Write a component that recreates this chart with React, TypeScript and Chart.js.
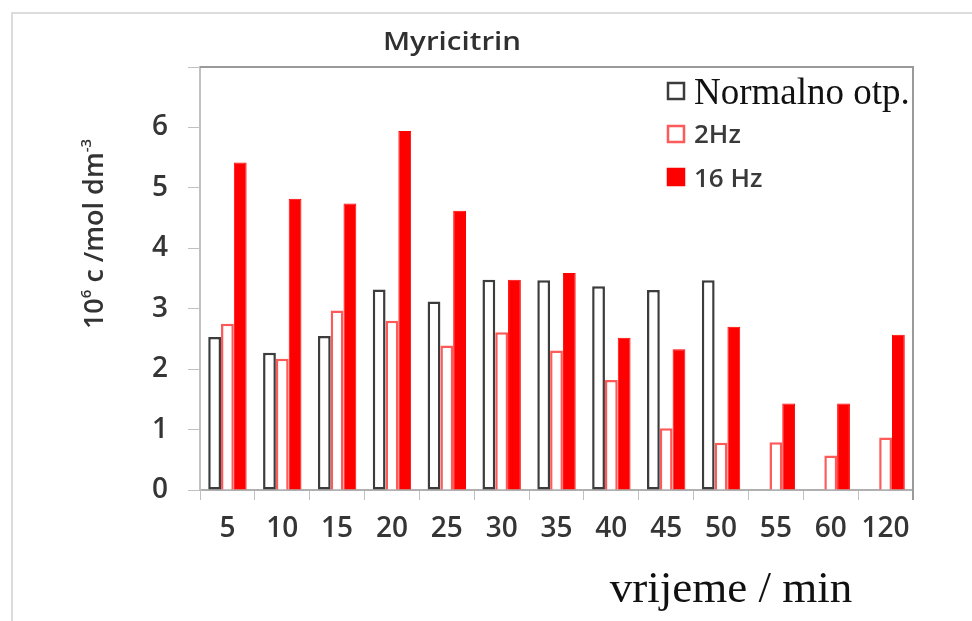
import React, { useEffect, useRef } from "react";
import { Chart, registerables } from "chart.js";

Chart.register(...registerables);

const categories = ["5", "10", "15", "20", "25", "30", "35", "40", "45", "50", "55", "60", "120"];
const normalnoValues: (number | null)[] = [2.53, 2.27, 2.55, 3.32, 3.12, 3.48, 3.47, 3.37, 3.31, 3.47, null, null, null];
const hz2Values = [2.75, 2.17, 2.97, 2.8, 2.39, 2.61, 2.31, 1.82, 1.02, 0.78, 0.79, 0.57, 0.87];
const hz16Values = [5.42, 4.82, 4.74, 5.94, 4.62, 3.48, 3.59, 2.52, 2.33, 2.7, 1.43, 1.43, 2.57];
const seriesLabels = ["Normalno otp.", "2Hz", "16 Hz"];
const yMin = 0;
const yMax = 7;
const yStep = 1;
const hiddenYTickLabels = [7];
const chartTitle = "Myricitrin";
const xAxisTitle = "vrijeme / min";
const yAxisTitleParts = [
  { text: "10", sup: false },
  { text: "6", sup: true },
  { text: " c /mol dm", sup: false },
  { text: "-3", sup: true },
];

const decorPlugin = {
  id: "decor",
  afterDraw(chart: any) {
    const { ctx, chartArea } = chart;
    ctx.save();
    // plot frame top + right
    ctx.strokeStyle = "#9a9a9a";
    ctx.lineWidth = 2;
    ctx.beginPath();
    ctx.moveTo(chartArea.left, chartArea.top);
    ctx.lineTo(chartArea.right, chartArea.top);
    ctx.lineTo(chartArea.right, chartArea.bottom + 10);
    ctx.stroke();

    // title (slightly stretched horizontally like the reference)
    ctx.save();
    ctx.fillStyle = "#303030";
    ctx.font = '600 25px "Open Sans"';
    ctx.textAlign = "center";
    ctx.textBaseline = "alphabetic";
    ctx.translate(452, 50);
    ctx.scale(1.18, 1);
    ctx.fillText(chartTitle, 0, 0);
    ctx.restore();

    // x axis title
    ctx.fillStyle = "#111111";
    ctx.font = '45px "Liberation Serif"';
    ctx.textAlign = "center";
    ctx.fillText(xAxisTitle, 731, 602);

    // y axis title (rotated, with superscripts)
    const mainFont = '600 27px "Open Sans"';
    const supFont = '600 15px "Open Sans"';
    let total = 0;
    for (const p of yAxisTitleParts) {
      ctx.font = p.sup ? supFont : mainFont;
      total += ctx.measureText(p.text).width;
    }
    ctx.save();
    ctx.translate(103, 234);
    ctx.rotate(-Math.PI / 2);
    ctx.fillStyle = "#333333";
    ctx.textAlign = "left";
    let x = -total / 2;
    for (const p of yAxisTitleParts) {
      ctx.font = p.sup ? supFont : mainFont;
      ctx.fillText(p.text, x, p.sup ? -12 : 0);
      x += ctx.measureText(p.text).width;
    }
    ctx.restore();

    // legend
    const legendFonts = ['37px "Liberation Serif"', '600 26px "Open Sans"', '600 26px "Open Sans"'];
    const legendColors = ["#111111", "#3a3a3a", "#3a3a3a"];
    const boxTops = [82, 125, 168];
    const baselines = [104, 143, 187];
    chart.data.datasets.forEach((ds: any, i: number) => {
      ctx.fillStyle = ds.backgroundColor;
      ctx.fillRect(667, boxTops[i], 18, 18);
      ctx.strokeStyle = ds.borderColor;
      ctx.lineWidth = 2.5;
      ctx.strokeRect(668, boxTops[i] + 1, 16, 16);
      ctx.fillStyle = legendColors[i];
      ctx.font = legendFonts[i];
      ctx.textAlign = "left";
      ctx.fillText(ds.label, 694, baselines[i]);
    });
    ctx.restore();
  },
};

export default function App() {
  const canvasRef = useRef<HTMLCanvasElement | null>(null);

  useEffect(() => {
    if (!canvasRef.current) return;
    const chart = new Chart(canvasRef.current, {
      type: "bar",
      data: {
        labels: categories,
        datasets: [
          {
            label: seriesLabels[0],
            data: normalnoValues,
            backgroundColor: "#ffffff",
            borderColor: "#3c3c3c",
            borderWidth: 2.5,
            borderSkipped: false,
          },
          {
            label: seriesLabels[1],
            data: hz2Values,
            backgroundColor: "#ffffff",
            borderColor: "#ff5a5a",
            borderWidth: 2.5,
            borderSkipped: "start",
          },
          {
            label: seriesLabels[2],
            data: hz16Values,
            backgroundColor: "#ff0000",
            borderColor: "#ff0000",
            borderWidth: 1,
          },
        ],
      },
      options: {
        responsive: false,
        animation: false,
        devicePixelRatio: 1,
        datasets: { bar: { categoryPercentage: 0.7, barPercentage: 1.0 } },
        layout: { padding: { left: 0, top: 67, right: 59, bottom: 0 } },
        plugins: { legend: { display: false }, title: { display: false }, tooltip: { enabled: false } },
        scales: {
          x: {
            grid: { display: true, drawOnChartArea: false, drawTicks: true, tickLength: 10, color: "#c0c0c0", offset: true },
            border: { display: true, color: "#b0b0b0", width: 2 },
            ticks: { color: "#353535", font: { size: 28, family: '"Open Sans"', weight: "600" }, padding: 12, maxRotation: 0, autoSkip: false },
            afterFit: (scale: any) => {
              scale.height = 131;
            },
          },
          y: {
            min: yMin,
            max: yMax,
            grid: { display: true, drawOnChartArea: false, drawTicks: true, tickLength: 12, color: "#c0c0c0" },
            border: { display: true, color: "#c0c0c0", width: 2 },
            ticks: {
              stepSize: yStep,
              color: "#353535",
              font: { size: 28, family: '"Open Sans"', weight: "600" },
              padding: 20,
              callback: (v: any) => (hiddenYTickLabels.includes(Number(v)) ? "" : String(v)),
            },
            afterFit: (scale: any) => {
              scale.width = 200;
            },
          },
        },
      },
      plugins: [decorPlugin],
    });
    return () => chart.destroy();
  }, []);

  return (
    <div style={{ position: "absolute", left: 0, top: 0, width: 972, height: 621, background: "#ffffff", overflow: "hidden" }}>
      <div
        style={{
          position: "absolute",
          left: 11,
          top: 12,
          width: 972,
          height: 621,
          borderTop: "2px solid #dcdcdc",
          borderLeft: "2px solid #dcdcdc",
        }}
      />
      <canvas ref={canvasRef} width={972} height={621} style={{ position: "absolute", left: 0, top: 0, width: 972, height: 621 }} />
    </div>
  );
}
